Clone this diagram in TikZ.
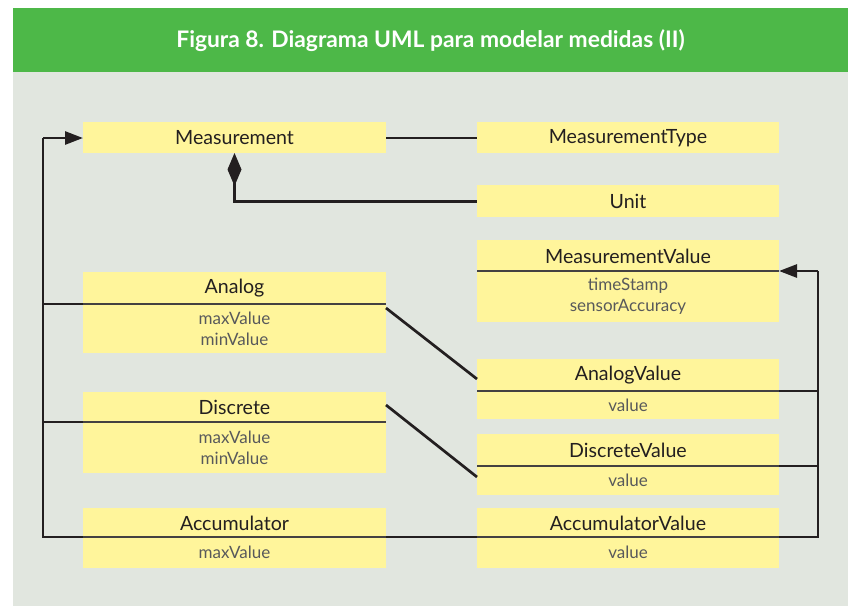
\documentclass[tikz,border=0pt]{standalone}
\usepackage{fontspec}
\setmainfont{Lato}
\usetikzlibrary{arrows.meta}
\definecolor{hdrgreen}{HTML}{4DB848}
\definecolor{bggray}{HTML}{E1E6DF}
\definecolor{boxyellow}{HTML}{FFF59B}
\definecolor{ink}{HTML}{231F20}
\definecolor{attrgray}{HTML}{58595B}
\tikzset{
  classbox/.style={fill=boxyellow, draw=none, inner sep=0pt, anchor=north west},
  titletext/.style={font=\fontsize{19.6}{22}\selectfont, text=ink, inner sep=0pt},
  attrtext/.style={font=\fontsize{17}{21}\selectfont, text=attrgray, inner sep=0pt, align=center},
  divider/.style={draw=ink!85, line width=1.6pt},
  conn/.style={draw=ink, line width=2.7pt},
  genarrow/.style={-{Triangle[length=18pt,width=13pt]}},
  composition/.style={{Diamond[length=33pt,width=14pt]}-},
}
% \umlclass{name}{x1}{y1}{x2}{y2}{ydiv}{title}{attrs}
\newcommand{\umlclass}[8]{%
  \node[classbox, minimum width=#4pt-#2pt, minimum height=#5pt-#3pt] (#1) at (#2,#3) {};
  \coordinate (#1-dl) at (#2,#6);
  \coordinate (#1-dr) at (#4,#6);
  \node[titletext] (#1-t) at ({(#2+#4)/2},{(#3+#6)/2+0.5}) {#7};
  \node[attrtext] (#1-a) at ({(#2+#4)/2},{(#6+#5)/2}) {#8};
  \draw[divider] (#1-dl) -- (#1-dr);
}
% \umlsimple{name}{x1}{y1}{x2}{y2}{title}
\newcommand{\umlsimple}[6]{%
  \node[classbox, minimum width=#4pt-#2pt, minimum height=#5pt-#3pt] (#1) at (#2,#3) {};
  \node[titletext] (#1-t) at ({(#2+#4)/2},{(#3+#5)/2+0.5}) {#6};
}
\begin{document}
\begin{tikzpicture}[x=1pt,y=-1pt]
\useasboundingbox (0,0) rectangle (848,606);
\fill[white] (0,0) rectangle (848,606);
\fill[bggray] (13,72) rectangle (848,606);
\fill[hdrgreen] (13,8) rectangle (848,72);
\node[text=white, font=\fontsize{22.8}{26}\selectfont\bfseries, inner sep=0pt] (title) at (430.5,41) {Figura 8. Diagrama UML para modelar medidas (II)};

\umlsimple{Measurement}{83}{122}{386}{153}{Measurement}
\umlsimple{MeasurementType}{477}{122}{779}{153}{MeasurementType}
\umlsimple{Unit}{477}{185}{779}{217}{Unit}
\umlclass{MeasurementValue}{477}{240}{779}{322}{271}{MeasurementValue}{timeStamp\\sensorAccuracy}
\umlclass{Analog}{83}{272}{386}{353}{304}{Analog}{maxValue\\minValue}
\umlclass{AnalogValue}{477}{359}{779}{419}{391}{AnalogValue}{value}
\umlclass{Discrete}{83}{392}{386}{473}{422}{Discrete}{maxValue\\minValue}
\umlclass{DiscreteValue}{477}{434}{779}{495}{466}{DiscreteValue}{value}
\umlclass{Accumulator}{83}{508}{386}{568}{537}{Accumulator}{maxValue}
\umlclass{AccumulatorValue}{477}{508}{779}{568}{537}{AccumulatorValue}{value}

% associations
\coordinate (mtl) at (386,138);
\draw[conn] (mtl) -- (MeasurementType.west |- mtl);
\coordinate (mdia) at (234.5,153);
\draw[conn, composition] (mdia) |- (Unit.west);

% generalisation, left side
\coordinate (lb) at (43,537);
\coordinate (lt) at (43,138);
\draw[conn] (Accumulator-dl) -- (lb) -- (lt);
\draw[conn, genarrow] (lt) -- (Measurement.west |- lt);
\draw[conn] (Analog-dl) -- (Analog-dl -| lb);
\draw[conn] (Discrete-dl) -- (Discrete-dl -| lb);

% generalisation, right side
\coordinate (rb) at (818,537);
\coordinate (rt) at (818,271);
\draw[conn] (AccumulatorValue-dr) -- (rb) -- (rt);
\draw[conn, genarrow] (rt) -- (MeasurementValue-dr);
\draw[conn] (AnalogValue-dr) -- (AnalogValue-dr -| rb);
\draw[conn] (DiscreteValue-dr) -- (DiscreteValue-dr -| rb);

% class to value associations
\coordinate (an1) at (386,308);
\coordinate (an2) at (477,379);
\draw[conn] (an1) -- (an2);
\coordinate (di1) at (386,405);
\coordinate (di2) at (477,477);
\draw[conn] (di1) -- (di2);
\draw[conn] (Accumulator-dr) -- (AccumulatorValue-dl);
\end{tikzpicture}
\end{document}
